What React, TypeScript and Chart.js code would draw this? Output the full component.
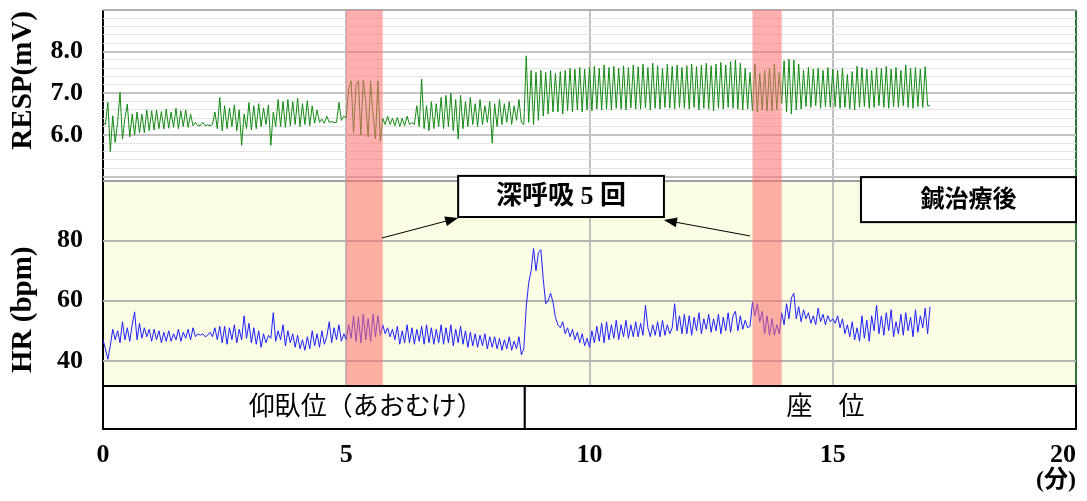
import React, { useEffect, useRef } from "react";
import { Chart, registerables } from "chart.js";

Chart.register(...registerables);

// サンプリング間隔（分）
const STEP = 0.05;

// 呼吸波形 RESP (mV)  1行 = 1分
const respValues = [
  6.3, 6.25, 6.78, 5.6, 6.46, 5.82, 6.3, 7.02, 5.9, 6.4, 6.74, 5.95, 6.5, 6.0, 6.55, 6.05, 6.5, 6.05, 6.6, 6.1,
  6.58, 6.12, 6.6, 6.15, 6.56, 6.14, 6.62, 6.16, 6.55, 6.18, 6.64, 6.15, 6.58, 6.2, 6.6, 6.18, 6.5, 6.22, 6.3, 6.22,
  6.22, 6.3, 6.22, 6.24, 6.22, 6.25, 6.55, 6.15, 6.9, 6.1, 6.7, 6.15, 6.65, 6.2, 6.72, 6.1, 6.6, 5.75, 6.5, 6.15,
  6.78, 6.12, 6.7, 6.15, 6.75, 6.2, 6.65, 6.25, 6.72, 5.75, 6.55, 6.2, 6.85, 6.2, 6.8, 6.18, 6.85, 6.22, 6.8, 6.25,
  6.88, 6.2, 6.75, 6.25, 6.82, 6.22, 6.7, 6.28, 6.6, 6.3, 6.38, 6.28, 6.45, 6.3, 6.32, 6.3, 6.3, 6.78, 6.35, 6.45,
  6.4, 7.1, 7.3, 6.05, 7.2, 7.3, 6.0, 7.32, 6.8, 5.95, 7.3, 6.5, 5.9, 7.3, 5.85, 6.4, 6.25, 6.45, 6.25, 6.4,
  6.22, 6.42, 6.2, 6.4, 6.22, 6.45, 6.25, 6.3, 6.25, 6.7, 6.2, 7.34, 6.15, 6.7, 6.1, 6.8, 6.15, 6.75, 6.2, 6.9,
  6.15, 6.95, 6.2, 7.0, 6.1, 6.85, 5.9, 6.95, 6.15, 6.8, 6.2, 6.9, 6.25, 6.75, 6.2, 6.85, 6.25, 6.7, 6.3, 6.8,
  5.8, 6.75, 6.2, 6.85, 6.25, 6.75, 6.3, 6.8, 6.25, 6.7, 6.35, 6.85, 6.3, 6.25, 7.9, 6.3, 7.55, 6.25, 7.5, 6.35,
  7.55, 6.45, 7.5, 6.5, 7.55, 6.55, 7.48, 6.55, 7.52, 6.5, 7.55, 6.58, 7.6, 6.55, 7.58, 6.6, 7.62, 6.55, 7.58, 6.6,
  7.62, 6.58, 7.65, 6.62, 7.6, 6.6, 7.68, 6.62, 7.62, 6.6, 7.65, 6.64, 7.6, 6.62, 7.66, 6.6, 7.62, 6.65, 7.68, 6.62,
  7.64, 6.62, 7.7, 6.65, 7.62, 6.6, 7.72, 6.64, 7.66, 6.62, 7.6, 6.66, 7.7, 6.64, 7.65, 6.62, 7.68, 6.66, 7.62, 6.64,
  7.66, 6.62, 7.7, 6.66, 7.64, 6.6, 7.68, 6.64, 7.72, 6.62, 7.66, 6.58, 7.7, 6.64, 7.74, 6.62, 7.68, 6.66, 7.76, 6.64,
  7.8, 6.62, 7.72, 6.6, 7.6, 6.62, 7.5, 6.58, 7.7, 6.55, 7.48, 6.6, 7.55, 6.58, 7.6, 6.58, 7.7, 6.6, 7.5, 6.75,
  7.78, 6.55, 7.82, 6.5, 7.8, 6.6, 7.7, 6.62, 7.55, 6.68, 7.62, 6.66, 7.58, 6.7, 7.6, 6.64, 7.55, 6.68, 7.62, 6.66,
  7.58, 6.68, 7.55, 6.64, 7.6, 6.66, 7.45, 6.62, 7.52, 6.6, 7.65, 6.66, 7.62, 6.68, 7.58, 6.64, 7.55, 6.66, 7.62, 6.7,
  7.6, 6.66, 7.65, 6.64, 7.58, 6.68, 7.62, 6.66, 7.55, 6.7, 7.68, 6.66, 7.6, 6.64, 7.62, 6.68, 7.58, 6.66, 7.64, 6.7,
  6.7,
];

// 心拍数 HR (bpm)  1行 = 1分
const hrValues = [
  46.9, 44, 40.5, 45, 50.5, 47, 50, 46, 53, 47, 51, 46.5, 52, 56.3, 47, 52.5, 47.5, 51, 48, 50.5,
  46.5, 50.5, 47, 50, 46, 49.5, 46.5, 50, 46.5, 49, 47, 50.5, 46.5, 49.5, 47.5, 50.5, 47, 51, 48, 49,
  48.5, 49, 48, 48.5, 49.5, 48, 51, 47, 51.5, 46, 51.5, 45.5, 51, 47, 52, 46, 50.5, 47, 55, 47.5,
  52.5, 46, 51, 45.5, 50, 44.5, 49, 46, 48.5, 47.5, 56, 46.5, 50, 47, 52, 45, 50, 46, 49, 44.5,
  48.5, 44, 47, 43.5, 48, 44, 50, 45, 49, 44.5, 50, 45.5, 48, 53, 46, 51, 47, 52, 46.5, 49,
  47, 52, 47.5, 55, 46.5, 54.5, 46, 55.5, 47, 54, 46.5, 55.5, 48, 55, 48.5, 52, 49, 51, 48, 50.5,
  47, 51.5, 45.5, 50, 46, 52, 46, 51, 45.5, 50.5, 46.5, 51.5, 45.5, 52, 46, 51, 45.5, 50.5, 46, 52,
  45.5, 51, 46, 52, 45, 50.5, 46, 51.5, 45.5, 50, 44.5, 49.5, 45, 49, 44.5, 48.5, 45, 49, 44, 48,
  44.5, 48, 44, 47.5, 43.5, 47, 44, 48, 43.5, 46.5, 44, 48, 42, 44, 58, 66, 70, 77.4, 70, 76,
  77, 67, 59, 60, 62.5, 59.5, 54.5, 52, 51, 53, 49, 51, 48, 50.5, 47, 49.5, 46, 49, 45, 47.5,
  44.5, 50, 46, 51.5, 46.5, 52.5, 46, 53, 47, 52, 47.5, 53.5, 47, 52, 48, 53.5, 47.5, 52, 48, 53,
  48, 52.5, 48.5, 58.5, 51, 48, 52, 48.5, 53, 48, 53.5, 48.5, 52, 49, 51, 59, 50, 55, 49, 55.5,
  49, 55, 48.5, 54.5, 50, 56, 49, 54, 50.5, 55.5, 49.5, 54, 50, 55.5, 49, 54.5, 50, 56, 49.5, 55,
  56.5, 50, 55, 50.5, 53.5, 51, 51.5, 59.5, 55, 59, 53, 56.5, 49, 55, 48.5, 54, 48.5, 52, 49, 56,
  52, 59, 54, 61, 62.5, 54, 58, 53, 57, 54, 56, 52.5, 55, 52, 57.5, 53, 55.5, 52, 55, 53,
  54, 52.5, 55, 51, 54, 49, 52, 48, 53, 47, 51, 46.5, 55, 47.5, 53.5, 46.5, 55, 50, 58.5, 49,
  55, 48.5, 56, 50, 57, 48, 53, 49, 55.5, 48.5, 56, 50, 54.5, 48, 57, 49.5, 55, 51, 57.5, 49,
  58,
];

const xTicks = [0, 5, 10, 15, 20];
const respTickLabels = [6, 7, 8];
const hrTicks = [40, 60, 80, 100];
const hrTickLabels = [40, 60, 80];

// 深呼吸5回の区間（分）
const deepBreathBands = [
  [5.0, 5.75],
  [13.35, 13.95],
];

const postures = [
  { label: "仰臥位（あおむけ）", from: 0, to: 8.67, labelAt: 5.4 },
  { label: "座　位", from: 8.67, to: 20, labelAt: 14.85 },
];

// 注記（x: 分, y: bpm）
const callouts = [
  { text: "深呼吸 5 回", x0: 7.3, x1: 11.53, y0: 87.9, y1: 101.6, size: 26 },
  { text: "鍼治療後", x0: 15.58, x1: 20, y0: 86.2, y1: 101.2, size: 24 },
];
const calloutArrows = [
  { from: [5.73, 80.9], to: [7.3, 87.6] },
  { from: [13.3, 81.6], to: [11.53, 86.9] },
];

const SERIF = '"Liberation Serif", "Times New Roman", serif';
const JP = '"Liberation Serif", "Noto Sans CJK JP", sans-serif';
const tickFont = { family: SERIF, size: 26, weight: "bold" as const };

const overlayPlugin = {
  id: "overlay",
  beforeDraw(chart: any) {
    const { ctx, chartArea } = chart;
    const hr = chart.scales.hr;
    ctx.save();
    ctx.fillStyle = "#fafce4";
    ctx.fillRect(chartArea.left, hr.top, chartArea.right - chartArea.left, hr.bottom - hr.top);
    ctx.restore();
  },
  afterDatasetsDraw(chart: any) {
    const { ctx, chartArea } = chart;
    const x = chart.scales.x;
    ctx.save();
    ctx.fillStyle = "rgba(255, 110, 110, 0.55)";
    deepBreathBands.forEach(([a, b]) => {
      const x0 = x.getPixelForValue(a);
      const x1 = x.getPixelForValue(b);
      ctx.fillRect(x0, chartArea.top, x1 - x0, chartArea.bottom - chartArea.top);
    });
    ctx.restore();
  },
  afterDraw(chart: any) {
    const { ctx, chartArea } = chart;
    const x = chart.scales.x;
    const resp = chart.scales.resp;
    const hr = chart.scales.hr;
    ctx.save();

    // 体位バー
    const barTop = chartArea.bottom;
    const barH = 43;
    ctx.lineWidth = 2;
    ctx.strokeStyle = "#000";
    ctx.textAlign = "center";
    ctx.textBaseline = "middle";
    ctx.font = `26px ${JP}`;
    postures.forEach((p) => {
      const x0 = x.getPixelForValue(p.from);
      const x1 = x.getPixelForValue(p.to);
      ctx.fillStyle = "#fff";
      ctx.fillRect(x0, barTop, x1 - x0, barH);
      ctx.strokeRect(x0, barTop, x1 - x0, barH);
      ctx.fillStyle = "#000";
      ctx.fillText(p.label, x.getPixelForValue(p.labelAt), barTop + barH / 2 + 1);
    });

    // 矢印
    ctx.lineWidth = 1;
    calloutArrows.forEach((a) => {
      const fx = x.getPixelForValue(a.from[0]);
      const fy = hr.getPixelForValue(a.from[1]);
      const tx = x.getPixelForValue(a.to[0]);
      const ty = hr.getPixelForValue(a.to[1]);
      const ang = Math.atan2(ty - fy, tx - fx);
      ctx.beginPath();
      ctx.moveTo(fx, fy);
      ctx.lineTo(tx - 10 * Math.cos(ang), ty - 10 * Math.sin(ang));
      ctx.stroke();
      ctx.beginPath();
      ctx.moveTo(tx, ty);
      ctx.lineTo(tx - 13 * Math.cos(ang) + 5 * Math.sin(ang), ty - 13 * Math.sin(ang) - 5 * Math.cos(ang));
      ctx.lineTo(tx - 13 * Math.cos(ang) - 5 * Math.sin(ang), ty - 13 * Math.sin(ang) + 5 * Math.cos(ang));
      ctx.closePath();
      ctx.fillStyle = "#000";
      ctx.fill();
    });

    // 注記ボックス
    ctx.lineWidth = 2;
    callouts.forEach((c) => {
      const x0 = x.getPixelForValue(c.x0);
      const x1 = x.getPixelForValue(c.x1);
      const y0 = hr.getPixelForValue(c.y1);
      const y1 = hr.getPixelForValue(c.y0);
      ctx.fillStyle = "#fff";
      ctx.fillRect(x0, y0, x1 - x0, y1 - y0);
      ctx.strokeRect(x0, y0, x1 - x0, y1 - y0);
      ctx.fillStyle = "#000";
      ctx.font = `bold ${c.size}px ${JP}`;
      ctx.fillText(c.text, (x0 + x1) / 2, (y0 + y1) / 2 + 1);
    });

    // 縦軸タイトル
    ctx.font = `bold 29px ${SERIF}`;
    [
      { text: "RESP(mV)", y: resp.getPixelForValue(7.31) },
      { text: "HR (bpm)", y: hr.getPixelForValue(57) },
    ].forEach((t) => {
      ctx.save();
      ctx.translate(23.5, t.y);
      ctx.rotate(-Math.PI / 2);
      ctx.fillText(t.text, 0, 0);
      ctx.restore();
    });

    ctx.restore();
  },
};

export default function App() {
  const canvasRef = useRef<HTMLCanvasElement>(null);

  useEffect(() => {
    document.body.style.margin = "0";
    if (!canvasRef.current) return;

    const chart = new Chart(canvasRef.current, {
      type: "line",
      data: {
        datasets: [
          {
            label: "RESP",
            data: respValues.map((v, i) => ({ x: i * STEP, y: v })),
            xAxisID: "x",
            yAxisID: "resp",
            borderColor: "#138a13",
            borderWidth: 1,
            pointRadius: 0,
            tension: 0,
          },
          {
            label: "HR",
            data: hrValues.map((v, i) => ({ x: i * STEP, y: v })),
            xAxisID: "x",
            yAxisID: "hr",
            borderColor: "#1f1fff",
            borderWidth: 1,
            pointRadius: 0,
            tension: 0,
          },
        ],
      },
      options: {
        responsive: false,
        animation: false,
        events: [],
        layout: { padding: { top: 10, right: 11, left: 0, bottom: 0 } },
        plugins: { legend: { display: false }, tooltip: { enabled: false } },
        scales: {
          x: {
            type: "linear",
            min: 0,
            max: 20,
            afterBuildTicks: (s: any) => {
              s.ticks = xTicks.map((v) => ({ value: v }));
            },
            ticks: {
              autoSkip: false,
              maxRotation: 0,
              padding: 54,
              color: "#000",
              font: tickFont,
              callback: (v: any) => (v === 20 ? "20\u2003" : String(v)),
            },
            grid: {
              drawTicks: false,
              color: (c: any) =>
                c.tick.value === 0 ? "#000" : c.tick.value === 20 ? "#2f6f3a" : "#c0c0c0",
              lineWidth: 2,
            },
            border: { display: false },
            title: {
              display: true,
              text: "(分)",
              align: "end",
              color: "#000",
              font: { family: JP, size: 24, weight: "bold" },
              padding: { top: 0, bottom: 6 },
            },
            afterFit: (s: any) => {
              s.height = 115;
              s.paddingLeft = 0;
              s.paddingRight = 0;
            },
          },
          resp: {
            type: "linear",
            position: "left",
            stack: "panels",
            stackWeight: 170.7,
            weight: 1,
            min: 4.9,
            max: 9.0,
            afterBuildTicks: (s: any) => {
              const t = [];
              for (let i = 0; i <= 20; i++) t.push({ value: Math.round((5 + i * 0.2) * 10) / 10 });
              s.ticks = t;
            },
            ticks: {
              autoSkip: false,
              padding: 20,
              color: "#000",
              font: tickFont,
              callback: (v: any) => (respTickLabels.includes(v) ? Number(v).toFixed(1) : ""),
            },
            grid: {
              drawTicks: false,
              color: (c: any) =>
                c.tick.value === 9 ? "#b0b0b0" : Number.isInteger(c.tick.value) ? "#c4c4c4" : "#e3e3e3",
              lineWidth: (c: any) => (Number.isInteger(c.tick.value) ? 2 : 1),
            },
            border: { display: false },
            afterFit: (s: any) => {
              s.width = 103;
              s.paddingTop = 0;
              s.paddingBottom = 0;
            },
          },
          hr: {
            type: "linear",
            position: "left",
            stack: "panels",
            stackWeight: 205.3,
            weight: 0,
            min: 31.6,
            max: 100,
            afterBuildTicks: (s: any) => {
              s.ticks = hrTicks.map((v) => ({ value: v }));
            },
            ticks: {
              autoSkip: false,
              padding: 20,
              color: "#000",
              font: tickFont,
              callback: (v: any) => (hrTickLabels.includes(v) ? String(v) : ""),
            },
            grid: {
              drawTicks: false,
              color: (c: any) => (c.tick.value === 100 ? "#a0a0a0" : "#b4b4b4"),
              lineWidth: 2,
            },
            border: { display: false },
            afterFit: (s: any) => {
              s.width = 103;
              s.paddingTop = 0;
              s.paddingBottom = 0;
            },
          },
        },
      },
      plugins: [overlayPlugin],
    } as any);

    return () => chart.destroy();
  }, []);

  return (
    <div style={{ width: 1087, height: 501, background: "#fff" }}>
      <canvas ref={canvasRef} width={1087} height={501} style={{ display: "block" }} />
    </div>
  );
}
